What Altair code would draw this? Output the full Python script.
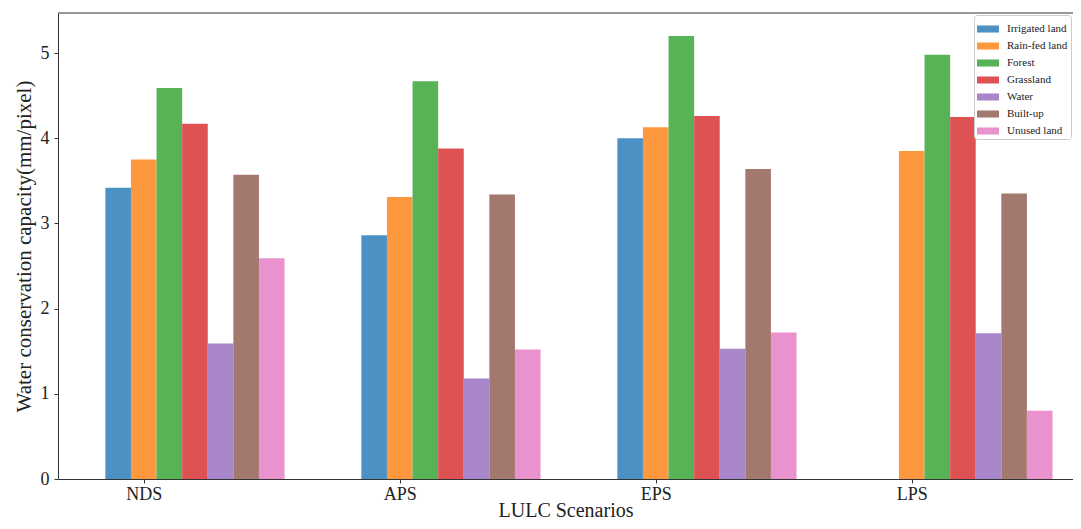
import altair as alt
import pandas as pd

scenarios = ["NDS", "APS", "EPS", "LPS"]
land_types = ["Irrigated land", "Rain-fed land", "Forest", "Grassland", "Water", "Built-up", "Unused land"]
colors = ["#4c91c3", "#fe983e", "#56b356", "#de5253", "#a985ca", "#a3786f", "#e992ce"]

irrigated = [3.42, 2.86, 4.00, 0.0]
rainfed = [3.75, 3.31, 4.13, 3.85]
forest = [4.59, 4.67, 5.20, 4.98]
grassland = [4.17, 3.88, 4.26, 4.25]
water = [1.59, 1.18, 1.53, 1.71]
builtup = [3.57, 3.34, 3.64, 3.35]
unused = [2.59, 1.52, 1.72, 0.80]

series = [irrigated, rainfed, forest, grassland, water, builtup, unused]
bar_w = 0.1

rows = []
for i, (lt, vals) in enumerate(zip(land_types, series)):
    for g, (sc, v) in enumerate(zip(scenarios, vals)):
        rows.append({"scenario": sc, "land": lt, "value": v, "pos": g + (i - 1) * bar_w})
df = pd.DataFrame(rows)

font = "Liberation Serif"

bars = alt.Chart(df).transform_calculate(
    x0=f"datum.pos - {bar_w/2}", x1=f"datum.pos + {bar_w/2}"
).mark_bar().encode(
    x=alt.X("x0:Q", scale=alt.Scale(domain=[-0.335, 3.63], nice=False, zero=False),
            axis=alt.Axis(values=[0, 1, 2, 3],
                          labelExpr="['NDS','APS','EPS','LPS'][datum.value]",
                          title="LULC Scenarios", grid=False, tickSize=4,
                          labelPadding=2, titlePadding=-3, titleFontSize=20)),
    x2="x1:Q",
    y=alt.Y("value:Q", scale=alt.Scale(domain=[0, 5.47], nice=False),
            axis=alt.Axis(values=[0, 1, 2, 3, 4, 5], format="d", grid=False,
                          title="Water conservation capacity(mm/pixel)", tickSize=4,
                          labelPadding=5, titlePadding=6)),
    y2=alt.datum(0),
    color=alt.Color("land:N", sort=land_types,
                    scale=alt.Scale(domain=land_types, range=colors),
                    legend=alt.Legend(title=None, orient="none", legendX=916, legendY=2,
                                      symbolType="M-1,-0.32H1V0.32H-1Z", symbolSize=484,
                                      symbolStrokeWidth=0, symbolOpacity=1,
                                      labelFont=font, labelFontSize=11, labelColor="#222",
                                      labelOffset=8, rowPadding=1, padding=3,
                                      strokeColor="#cccccc", fillColor="white",
                                      cornerRadius=3)),
)

top_line = alt.Chart(pd.DataFrame({"v": [0]})).mark_rule(color="#333", strokeWidth=1).encode(
    y=alt.value(0)
)

chart = alt.layer(bars, top_line).properties(
    width=1015, height=466,
    autosize=alt.AutoSizeParams(type="none"),
    padding={"left": 50, "top": 5, "right": 0, "bottom": 42},
).configure_view(
    stroke=None
).configure_axis(
    labelFont=font, titleFont=font, labelFontSize=18, titleFontSize=21,
    labelColor="#222", titleColor="#222", titleFontWeight="normal",
    domainColor="#333", tickColor="#333"
)

chart.save("out.html", embed_options={"renderer": "svg", "actions": False})
